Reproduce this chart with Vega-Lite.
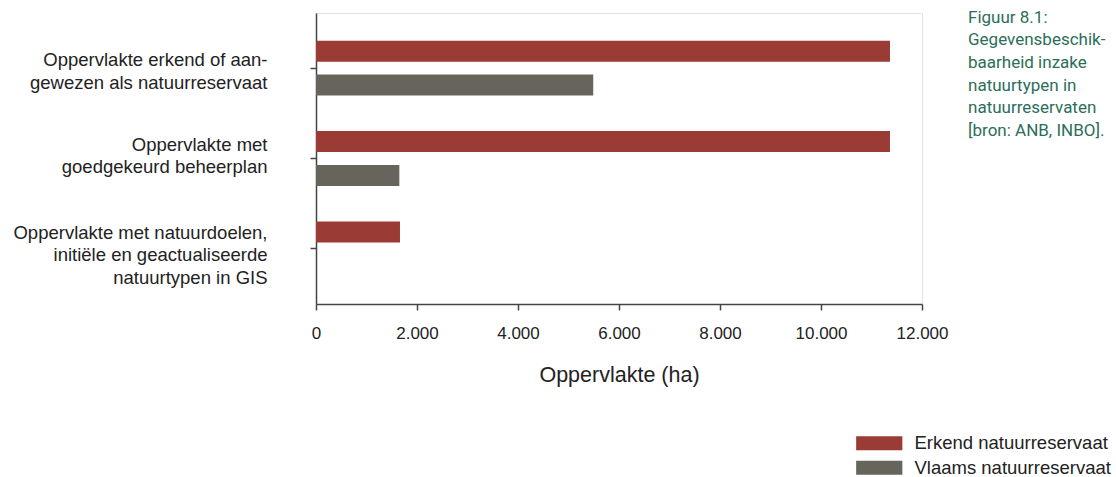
{
  "$schema": "https://vega.github.io/schema/vega-lite/v6.json",
  "autosize": "none",
  "padding": {"left": 316, "top": 13, "right": 194, "bottom": 173},
  "width": 606,
  "height": 291,
  "background": "white",
  "title": {
    "text": ["Figuur 8.1:", "Gegevensbeschik-", "baarheid inzake", "natuurtypen in", "natuurreservaten", "[bron: ANB, INBO]."],
    "orient": "top",
    "anchor": "end",
    "frame": "group",
    "align": "left",
    "baseline": "top",
    "offset": 0,
    "dx": 46,
    "dy": 127,
    "font": "Roboto",
    "fontSize": 17,
    "fontWeight": "normal",
    "lineHeight": 22.7,
    "color": "#2c6e5a"
  },
  "data": {
    "values": [
      {"categorie": "Oppervlakte erkend of aan-\ngewezen als natuurreservaat", "reservaat": "Erkend natuurreservaat", "oppervlakte": 11366},
      {"categorie": "Oppervlakte erkend of aan-\ngewezen als natuurreservaat", "reservaat": "Vlaams natuurreservaat", "oppervlakte": 5490},
      {"categorie": "Oppervlakte met\ngoedgekeurd beheerplan", "reservaat": "Erkend natuurreservaat", "oppervlakte": 11366},
      {"categorie": "Oppervlakte met\ngoedgekeurd beheerplan", "reservaat": "Vlaams natuurreservaat", "oppervlakte": 1650},
      {"categorie": "Oppervlakte met natuurdoelen,\ninitiële en geactualiseerde\nnatuurtypen in GIS", "reservaat": "Erkend natuurreservaat", "oppervlakte": 1663},
      {"categorie": "Oppervlakte met natuurdoelen,\ninitiële en geactualiseerde\nnatuurtypen in GIS", "reservaat": "Vlaams natuurreservaat", "oppervlakte": 0}
    ]
  },
  "mark": {"type": "bar"},
  "encoding": {
    "y": {
      "field": "categorie",
      "type": "nominal",
      "sort": null,
      "scale": {"paddingInner": 0, "paddingOuter": 0.11},
      "axis": {
        "title": null,
        "labelExpr": "split(datum.label, '\\n')",
        "labelFont": "Liberation Sans",
        "labelFontSize": 18.5,
        "labelLineHeight": 22.5,
        "labelColor": "#222222",
        "labelPadding": 43,
        "labelLimit": 400,
        "labelAlign": "right",
        "labelBaseline": "middle",
        "labelOffset": {
          "condition": [
            {"test": "indexof(datum.value, 'erkend') >= 0", "value": -8},
            {"test": "indexof(datum.value, 'GIS') >= 0", "value": -16}
          ],
          "value": -14
        },
        "tickSize": 6,
        "tickColor": "#444444",
        "tickWidth": 1.5,
        "domainColor": "#444444",
        "domainWidth": 1.5
      }
    },
    "yOffset": {
      "field": "reservaat",
      "type": "nominal",
      "sort": ["Erkend natuurreservaat", "Vlaams natuurreservaat"],
      "scale": {"paddingInner": 0.382, "paddingOuter": 0.522}
    },
    "x": {
      "field": "oppervlakte",
      "type": "quantitative",
      "scale": {"domain": [0, 12000], "nice": false},
      "axis": {
        "title": "Oppervlakte (ha)",
        "values": [0, 2000, 4000, 6000, 8000, 10000, 12000],
        "labelExpr": "replace(format(datum.value, ','), ',', '.')",
        "grid": false,
        "labelFont": "Liberation Sans",
        "labelFontSize": 17,
        "labelColor": "#222222",
        "labelPadding": 15,
        "labelFlush": false,
        "tickSize": 6,
        "tickColor": "#444444",
        "tickWidth": 1.5,
        "domainColor": "#444444",
        "domainWidth": 1.5,
        "titleFont": "Liberation Sans",
        "titleFontSize": 21.5,
        "titleFontWeight": "normal",
        "titleColor": "#222222",
        "titlePadding": 23
      }
    },
    "color": {
      "field": "reservaat",
      "type": "nominal",
      "sort": ["Erkend natuurreservaat", "Vlaams natuurreservaat"],
      "scale": {"range": ["#9a3b36", "#67645c"]},
      "legend": {
        "title": null,
        "orient": "none",
        "legendX": 554,
        "legendY": 421,
        "symbolType": "M-3.3,-1H3.3V1H-3.3Z",
        "symbolSize": 196,
        "symbolStrokeWidth": 0,
        "labelFont": "Liberation Sans",
        "labelFontSize": 18.5,
        "labelColor": "#222222",
        "labelOffset": 26,
        "labelLimit": 300,
        "rowPadding": 5.5,
        "padding": 0
      }
    }
  },
  "config": {
    "view": {"stroke": "#e2e2e2", "fill": "white"}
  }
}
